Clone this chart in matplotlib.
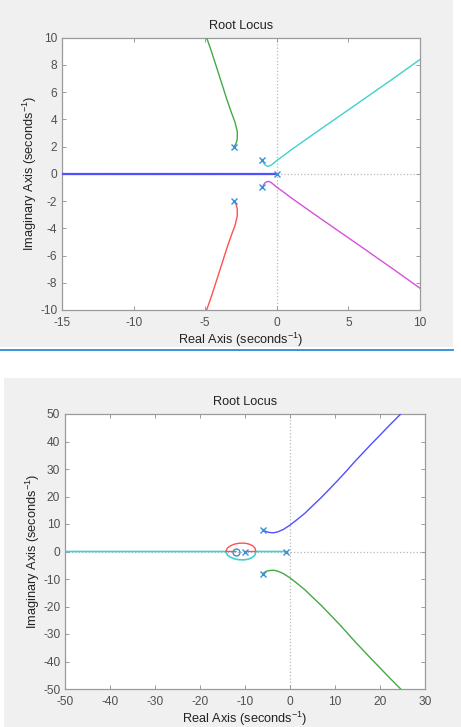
import matplotlib
matplotlib.use("Agg")
import matplotlib.pyplot as plt
import matplotlib.patches as patches

plt.rcParams['font.family'] = ['Liberation Sans', 'DejaVu Sans']
plt.rcParams['mathtext.fontset'] = 'custom'
plt.rcParams['mathtext.rm'] = 'Liberation Sans'
plt.rcParams['axes.unicode_minus'] = False

# ---- top figure: 5 poles, no zeros ----
top_poles_re = [0, -1, -1, -3, -3]
top_poles_im = [0, 1, -1, 2, -2]

top_blue_x = [0, -15]
top_blue_y = [0, 0]

top_green_x = [-3, -2.92, -2.82, -2.76, -2.76, -2.92, -3.1, -3.27, -3.5, -3.74, -4.03, -4.32, -4.6, -4.9]
top_green_y = [2, 2.1, 2.3, 2.6, 3.1, 3.8, 4.3, 4.8, 5.5, 6.3, 7.25, 8.2, 9.1, 10]

top_red_x = [-3, -2.92, -2.82, -2.76, -2.76, -2.92, -3.1, -3.27, -3.5, -3.74, -4.03, -4.32, -4.6, -4.9]
top_red_y = [-2, -2.1, -2.3, -2.6, -3.1, -3.8, -4.3, -4.8, -5.5, -6.3, -7.25, -8.2, -9.1, -10]

top_cyan_x = [-1, -0.92, -0.82, -0.7, -0.58, -0.45, -0.25, 0, 0.5, 1, 2, 3, 4, 5, 6, 7, 8, 9, 10]
top_cyan_y = [1, 0.8, 0.66, 0.58, 0.56, 0.6, 0.76, 0.98, 1.36, 1.76, 2.5, 3.24, 3.97, 4.7, 5.43, 6.17, 6.9, 7.65, 8.4]

top_mag_x = [-1, -0.92, -0.82, -0.7, -0.58, -0.45, -0.25, 0, 0.5, 1, 2, 3, 4, 5, 6, 7, 8, 9, 10]
top_mag_y = [-1, -0.8, -0.66, -0.58, -0.56, -0.6, -0.76, -0.98, -1.36, -1.76, -2.5, -3.24, -3.97, -4.7, -5.43, -6.17, -6.9, -7.65, -8.4]

# ---- bottom figure: 4 poles, 1 zero ----
bot_poles_re = [-1, -10, -6, -6]
bot_poles_im = [0, 0, 8, -8]
bot_zeros_re = [-12]
bot_zeros_im = [0]

bot_blue_x = [-6, -5.3, -4.5, -3.7, -2.8, -1.5, 0, 1.5, 3.3, 5, 7, 9, 10.7, 12.5, 14.4, 16.3, 18.2, 20, 21.8, 24.6]
bot_blue_y = [8, 7.2, 6.9, 6.8, 7.1, 8.0, 9.6, 11.5, 13.9, 16.6, 19.7, 23.1, 26, 29.2, 32.7, 36, 39.3, 42.3, 45.4, 50]

bot_green_x = [-6, -5.3, -4.5, -3.7, -2.8, -1.5, 0, 1.5, 3.3, 5, 7, 9, 10.7, 12.5, 14.4, 16.3, 18.2, 20, 21.8, 24.6]
bot_green_y = [-8, -7.2, -6.9, -6.8, -7.1, -8.0, -9.6, -11.5, -13.9, -16.6, -19.7, -23.1, -26, -29.2, -32.7, -36, -39.3, -42.3, -45.4, -50]

bot_red_x = [-10, -7.6, -7.8, -8.4, -9.3, -10.3, -11.3, -12.3, -13.2, -13.9, -14.3, -12]
bot_red_y = [0, 0, 1.3, 2.2, 2.8, 3.05, 3.0, 2.7, 2.1, 1.3, 0, 0]

bot_cyan_x = [-1, -7.6, -7.8, -8.4, -9.3, -10.3, -11.3, -12.3, -13.2, -13.9, -14.3, -50]
bot_cyan_y = [0, 0, -1.3, -2.2, -2.8, -3.05, -3.0, -2.7, -2.1, -1.3, 0, 0]

BLUE = '#5050ff'
GREEN = '#45a845'
RED = '#ff5050'
CYAN = '#40d0d0'
MAGENTA = '#d850d8'
MARK = '#3a8fd6'
GRID = '#b8b8b8'
AXC = '#9a9a9a'
TXT = '#505050'

W, H = 461, 727
fig = plt.figure(figsize=(W / 100, H / 100), dpi=100, facecolor='white')


def px_rect(x0, y0, x1, y1, **kw):
    # rectangle given in image pixels (y from top)
    r = patches.Rectangle((x0 / W, 1 - y1 / H), (x1 - x0) / W, (y1 - y0) / H,
                          transform=fig.transFigure, zorder=-10, **kw)
    fig.patches.append(r)


px_rect(0, 0, 452.5, 347, facecolor='#f0f0f0', edgecolor='none')
px_rect(4, 378, 461, 727, facecolor='#f0f0f0', edgecolor='none')
fig.add_artist(plt.Line2D([0, 452.5 / W], [1 - 350 / H, 1 - 350 / H],
                          transform=fig.transFigure, color='#3b94dc', lw=1.4))


def style_axes(ax, xlim, ylim, xticks, yticks):
    ax.set_xlim(xlim)
    ax.set_ylim(ylim)
    ax.set_xticks(xticks)
    ax.set_yticks(yticks)
    ax.axhline(0, color=GRID, ls=':', lw=0.9, zorder=1)
    ax.axvline(0, color=GRID, ls=':', lw=0.9, zorder=1)
    for s in ax.spines.values():
        s.set_color(AXC)
        s.set_linewidth(0.9)
    ax.tick_params(direction='in', top=True, right=True, length=3, width=0.7,
                   color=AXC, labelcolor=TXT, labelsize=8.6)
    ax.tick_params(axis='x', pad=5)
    ax.tick_params(axis='y', pad=3.5)
    ax.set_title('Root Locus', fontsize=9.2, color='#222222', pad=6.5)
    ax.set_xlabel(r'Real Axis (seconds$^{-1}$)', fontsize=9.2, color='#222222', labelpad=1)
    ax.set_ylabel(r'Imaginary Axis (seconds$^{-1}$)', fontsize=9.2, color='#222222', labelpad=1)


# top
ax1 = fig.add_axes([62 / W, 1 - 310 / H, 358 / W, 272.3 / H])
style_axes(ax1, (-15, 10), (-10, 10), range(-15, 11, 5), range(-10, 11, 2))
ax1.plot(top_blue_x, top_blue_y, color=BLUE, lw=1.6, zorder=3)
ax1.plot(top_green_x, top_green_y, color=GREEN, lw=1.0, zorder=3)
ax1.plot(top_red_x, top_red_y, color=RED, lw=1.0, zorder=3)
ax1.plot(top_cyan_x, top_cyan_y, color=CYAN, lw=1.0, zorder=3)
ax1.plot(top_mag_x, top_mag_y, color=MAGENTA, lw=1.0, zorder=3)
ax1.plot(top_poles_re, top_poles_im, 'x', color=MARK, ms=5, mew=1.0, zorder=4)

# bottom
ax2 = fig.add_axes([65 / W, 1 - 689 / H, 360 / W, 275 / H])
style_axes(ax2, (-50, 30), (-50, 50), range(-50, 31, 10), range(-50, 51, 10))
ax2.plot(bot_cyan_x, bot_cyan_y, color=CYAN, lw=1.2, zorder=3)
ax2.plot(bot_red_x, bot_red_y, color=RED, lw=1.0, zorder=3)
ax2.plot(bot_blue_x, bot_blue_y, color=BLUE, lw=1.0, zorder=3)
ax2.plot(bot_green_x, bot_green_y, color=GREEN, lw=1.0, zorder=3)
ax2.plot(bot_poles_re, bot_poles_im, 'x', color=MARK, ms=5, mew=1.0, zorder=4)
ax2.plot(bot_zeros_re, bot_zeros_im, 'o', mfc='none', mec=MARK, ms=5, mew=1.0, zorder=4)

fig.savefig('out.png', dpi=100, facecolor='white')
